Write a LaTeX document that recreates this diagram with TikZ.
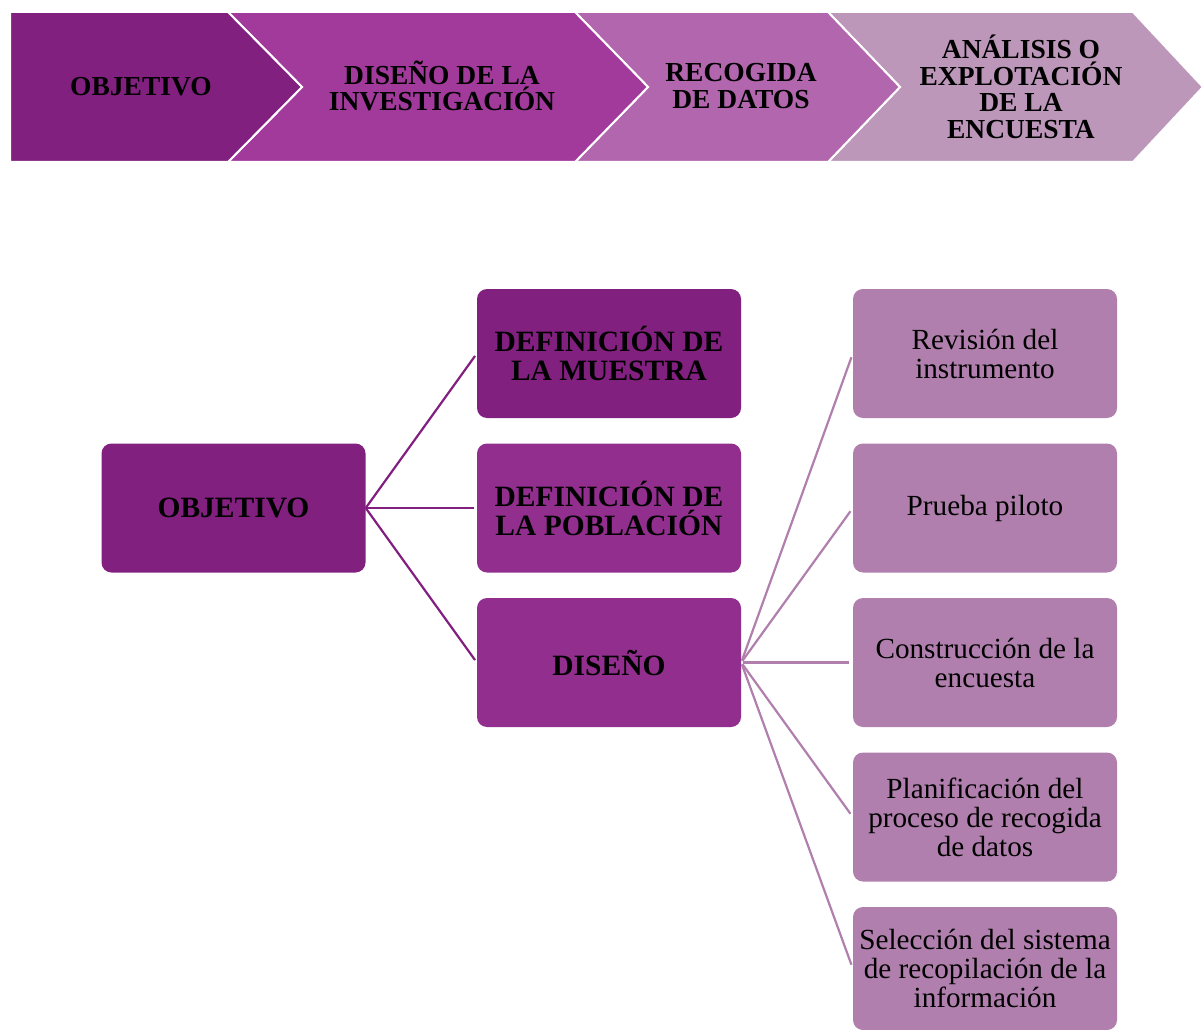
\documentclass[tikz,border=0pt]{standalone}
\usepackage{fontspec}
\setmainfont{Liberation Serif}
\definecolor{cdark}{HTML}{82207F}
\definecolor{ctwo}{HTML}{A23A9C}
\definecolor{cthree}{HTML}{B266AE}
\definecolor{cfour}{HTML}{BC97BA}
\definecolor{cmid}{HTML}{922F8E}
\definecolor{clight}{HTML}{B07FAD}
\tikzset{
  chev/.style={draw=white, line width=2pt, line join=miter},
  chevtext/.style={font=\fontsize{27.5}{26.5}\selectfont\bfseries, align=center, inner sep=0pt},
  box/.style={rectangle, rounded corners=10pt, minimum width=264pt, minimum height=129pt, inner sep=0pt, align=center},
  boldbox/.style={box, font=\fontsize{29.5}{29}\selectfont\bfseries},
  plainbox/.style={box, fill=clight, font=\fontsize{29.2}{29}\selectfont},
  linkdark/.style={draw=cdark, line width=2.2pt, shorten >=3pt},
  linklight/.style={draw=clight, line width=2.2pt, shorten >=4pt, shorten <=2pt}
}
\begin{document}
\begin{tikzpicture}[x=1pt, y=-1pt]
\useasboundingbox (0,0) rectangle (1203,1030);
% top process chevrons
\fill[cfour, chev] (828,12) -- (1133,12) -- (1203,87) -- (1133,162) -- (828,162) -- (900,87) -- cycle;
\fill[cthree, chev] (575,12) -- (828,12) -- (900,87) -- (828,162) -- (575,162) -- (648,87) -- cycle;
\fill[ctwo, chev] (228,12) -- (575,12) -- (648,87) -- (575,162) -- (228,162) -- (302,87) -- cycle;
\fill[cdark, chev] (10,12) -- (228,12) -- (302,87) -- (228,162) -- (10,162) -- cycle;
\node[chevtext] (t1) at (141,87) {OBJETIVO};
\node[chevtext] (t2) at (442,86) {DISEÑO DE LA\\INVESTIGACIÓN};
\node[chevtext] (t3) at (741,86) {RECOGIDA\\DE DATOS};
\node[chevtext] (t4) at (1021,87) {ANÁLISIS O\\EXPLOTACIÓN\\DE LA\\ENCUESTA};
% hierarchy
\node[boldbox, fill=cdark] (obj) at (233.5,508) {OBJETIVO};
\node[boldbox, fill=cdark] (m1) at (609,353.5) {DEFINICIÓN DE\\LA MUESTRA};
\node[boldbox, fill=cmid] (m2) at (609,508) {DEFINICIÓN DE\\LA POBLACIÓN};
\node[boldbox, fill=cmid] (m3) at (609,662.5) {DISEÑO};
\node[plainbox] (r1) at (985,353.5) {Revisión del\\instrumento};
\node[plainbox] (r2) at (985,508) {Prueba piloto};
\node[plainbox] (r3) at (985,662.5) {Construcción de la\\encuesta};
\node[plainbox] (r4) at (985,817) {Planificación del\\proceso de recogida\\de datos};
\node[plainbox, minimum height=123pt] (r5) at (985,968.5) {Selección del sistema\\de recopilación de la\\información};
% connectors
\draw[linkdark] (obj.east) -- (m1.west);
\draw[linkdark] (obj.east) -- (m2.west);
\draw[linkdark] (obj.east) -- (m3.west);
\draw[linklight] (m3.east) -- (r1.west);
\draw[linklight] (m3.east) -- (r2.west);
\draw[linklight] (m3.east) -- (r3.west);
\draw[linklight] (m3.east) -- (r4.west);
\draw[linklight] (m3.east) -- (r5.west);
\end{tikzpicture}
\end{document}
